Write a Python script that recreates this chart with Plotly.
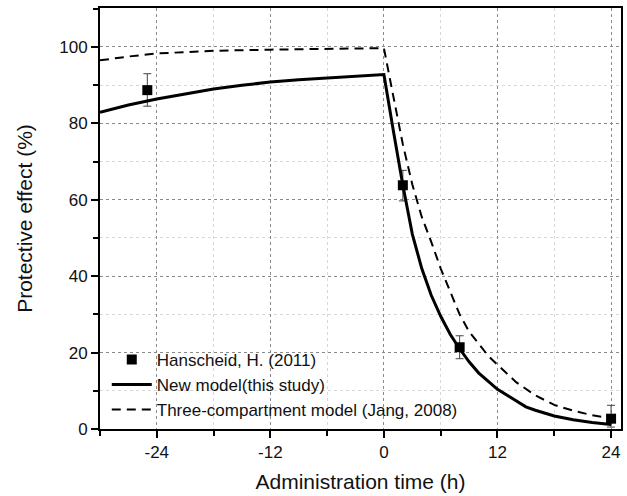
import plotly.graph_objects as go

# Experimental data (Hanscheid, H. 2011)
exp_x = [-25, 2, 8, 24]
exp_y = [88.7, 63.8, 21.4, 2.7]
exp_err_plus = [4.3, 3.9, 3.0, 3.5]
exp_err_minus = [4.2, 4.1, 3.0, 2.2]

# New model (this study)
new_x = [-30, -27, -24, -21, -18, -15, -12, -9, -6, -3, 0,
         1, 2, 3, 4, 5, 6, 7, 8, 9, 10, 12, 14, 15, 16, 18, 20, 22, 24]
new_y = [82.9, 84.8, 86.4, 87.8, 89.0, 90.0, 90.8, 91.4, 91.9, 92.4, 92.8,
         78.0, 63.8, 51.0, 42.0, 35.0, 29.5, 24.8, 21.0, 17.6, 14.7, 10.4, 7.2, 5.8, 4.9, 3.4, 2.4, 1.7, 1.2]

# Three-compartment model (Jang, 2008)
three_x = [-30, -27, -24, -18, -12, -6, 0,
           1, 2, 3, 4, 5, 6, 7, 8, 9, 10, 11, 12, 14, 16, 18, 20, 22, 24]
three_y = [96.5, 97.5, 98.3, 99.0, 99.3, 99.5, 99.7,
           87.0, 74.5, 64.0, 55.5, 49.0, 42.0, 36.0, 30.0, 25.5, 22.5, 19.2, 16.8, 12.2, 8.8, 6.3, 4.8, 3.6, 2.8]

x_ticks = [-24, -12, 0, 12, 24]
y_ticks = [0, 20, 40, 60, 80, 100]

FONT = "Liberation Sans, Arial, sans-serif"

fig = go.Figure()
fig.add_trace(go.Scatter(
    x=exp_x, y=exp_y, mode="markers", name="Hanscheid, H. (2011)",
    marker=dict(symbol="square", size=10, color="black"),
    error_y=dict(type="data", array=exp_err_plus, arrayminus=exp_err_minus,
                 color="#444444", thickness=1, width=4),
))
fig.add_trace(go.Scatter(
    x=new_x, y=new_y, mode="lines", name="New model(this study)",
    line=dict(color="black", width=3),
))
fig.add_trace(go.Scatter(
    x=three_x, y=three_y, mode="lines", name="Three-compartment model (Jang, 2008)",
    line=dict(color="black", width=2, dash="9px,6px"),
))

axis_common = dict(
    showline=True, linecolor="black", linewidth=2, mirror=True,
    ticks="outside", ticklen=7, tickwidth=2, tickcolor="black",
    showgrid=True, gridcolor="#8a8a8a", griddash="dot", gridwidth=1,
    zeroline=False,
    tickfont=dict(family=FONT, size=17, color="#111111"),
    title_font=dict(family=FONT, size=21, color="#111111"),
)

fig.update_xaxes(
    range=[-30, 25.05], tickvals=x_ticks, ticktext=[str(v) for v in x_ticks],
    title_text="Administration time (h)", title_standoff=13,
    minor=dict(dtick=6, tick0=0, ticks="outside", ticklen=5, tickwidth=2, tickcolor="black",
               showgrid=True, gridcolor="#d8d8d8", griddash="dot", gridwidth=1),
    **axis_common,
)
fig.update_yaxes(
    range=[0, 110.2], tickvals=y_ticks, ticktext=[str(v) for v in y_ticks],
    title_text="Protective effect (%)", title_standoff=21,
    minor=dict(dtick=10, tick0=0, ticks="outside", ticklen=5, tickwidth=2, tickcolor="black",
               showgrid=True, gridcolor="#d8d8d8", griddash="dot", gridwidth=1),
    **axis_common,
)

fig.update_layout(
    width=627, height=496,
    margin=dict(l=100, r=6, t=8, b=67, autoexpand=False),
    paper_bgcolor="white", plot_bgcolor="white",
    showlegend=True,
    legend=dict(
        x=0.013, y=0.207, xanchor="left", yanchor="top",
        bgcolor="rgba(0,0,0,0)", borderwidth=0,
        font=dict(family=FONT, size=17, color="#111111"),
        tracegroupgap=0, itemwidth=40,
    ),
    font=dict(family=FONT),
)

fig.write_html("out.html", config={"displayModeBar": False})

# remove default page margin so the figure sits at the window's top-left corner
with open("out.html", "r", encoding="utf-8") as f:
    html = f.read()
html = html.replace("<head>", "<head><style>body{margin:0;padding:0;}</style>", 1)
with open("out.html", "w", encoding="utf-8") as f:
    f.write(html)
